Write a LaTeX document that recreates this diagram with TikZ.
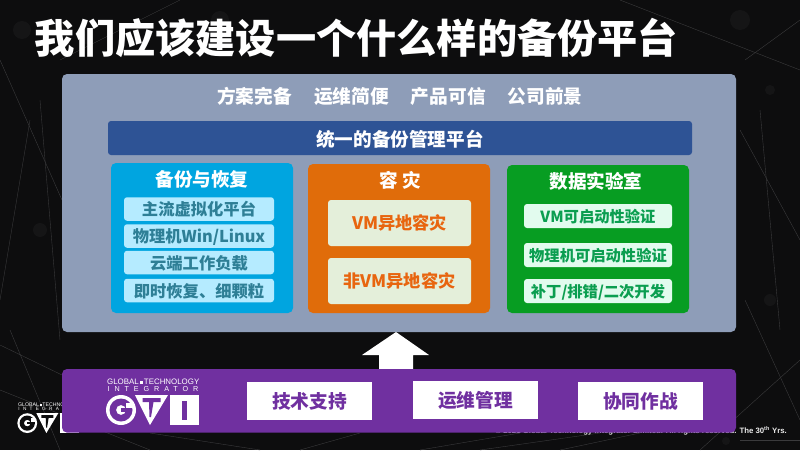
\documentclass[tikz,border=0pt]{standalone}
\usepackage{fontspec}
\setmainfont{Liberation Sans}
\newfontfamily\cjk{Noto Sans CJK SC}
\usetikzlibrary{positioning}

\definecolor{slide}{HTML}{0D0D0E}
\definecolor{web}{HTML}{3A3A3C}
\definecolor{panelgray}{HTML}{8E9DB8}
\definecolor{barblue}{HTML}{2E5395}
\definecolor{cyanbox}{HTML}{00A5E0}
\definecolor{cyanin}{HTML}{B5EBFF}
\definecolor{cyantxt}{HTML}{2E7F96}
\definecolor{orangebox}{HTML}{E06C0A}
\definecolor{orangein}{HTML}{E4EFDA}
\definecolor{orangetxt}{HTML}{E8650F}
\definecolor{greenbox}{HTML}{079D22}
\definecolor{greenin}{HTML}{E2FBEE}
\definecolor{greentxt}{HTML}{0B9E50}
\definecolor{gtipurple}{HTML}{7030A0}

\tikzset{
  card/.style={rounded corners=3pt, inner sep=0pt, align=center},
  panel/.style={card, fill=#1, rounded corners=5pt},
  head/.style={font=\cjk\fontsize{18.6}{18}\selectfont\bfseries, text=white, inner sep=0pt},
  cyanitem/.style={card, fill=cyanin, text=cyantxt, minimum width=150pt, minimum height=23.5pt,
    text height=14pt, text depth=1pt, font=\cjk\fontsize{16.3}{16}\selectfont\bfseries},
  orangeitem/.style={card, fill=orangein, text=orangetxt, minimum width=143pt, minimum height=46pt,
    text height=14.8pt, text depth=1pt, font=\cjk\fontsize{17.2}{17}\selectfont\bfseries},
  greenitem/.style={card, fill=greenin, text=greentxt, minimum width=148pt, minimum height=24pt,
    text height=13.2pt, text depth=.9pt, font=\cjk\fontsize{15.3}{16}\selectfont\bfseries},
  whitebox/.style={fill=white, text=gtipurple, inner sep=0pt, minimum width=125pt, minimum height=38pt,
    text height=16pt, text depth=1pt, font=\cjk\fontsize{18.7}{18}\selectfont\bfseries},
  goal/.style={head, font=\cjk\fontsize{18.7}{18}\selectfont\bfseries},
  pics/gtilogo/.style={code={
    \node (line1) [anchor=west, text=white, inner sep=0pt, transform shape, font=\fontsize{7.9}{9}\selectfont]
      at (0,4) {GLOBAL\,\raisebox{.2ex}{\rule{.32em}{.32em}}\,TECHNOLOGY};
    \node (line2) [anchor=west, text=white, inner sep=0pt, transform shape,
      font=\fontsize{7.2}{9}\selectfont\addfontfeature{LetterSpace=68}]
      at (0.5,11) {INTEGRATOR};
    \fill[white] (14,32) circle (15);
    \fill[#1, even odd rule] (14,32) circle (11.5) (14,32) circle (5);
    \fill[white] (19,24.5) rectangle (26.5,30);
    \fill[#1] (14,30) rectangle (25,34);
    \fill[white] (28,17) -- (61,17) -- (43,47) -- cycle;
    \fill[#1] (35.5,20) -- (53.5,20) -- (53.5,24) -- (46.5,24) -- (44,39) -- (42.5,39) -- (42,24) -- (35.5,24) -- cycle;
    \fill[white] (63,17) rectangle (92,47);
    \fill[#1] (74.5,23) rectangle (80,42);
  }}
}

\begin{document}
\begin{tikzpicture}[x=1pt, y=-1pt]
  \useasboundingbox (0,0) rectangle (800,450);
  \fill[slide] (0,0) rectangle (800,450);

  % faint web behind the slide
  \foreach \xa/\ya/\xb/\yb in {0/390/150/450, 10/330/60/450, 30/120/0/300, 740/130/800/240,
      745/300/800/420, 700/450/800/360, 560/450/640/433, 480/450/600/433, 745/60/800/20, 180/0/60/60,
      300/450/360/433, 620/0/800/70, 150/433/260/450, 420/450/520/433, 740/440/800/440, 0/345/62/375,
      760/110/780/330, 40/100/60/340, 0/60/62/200}
    \draw[web, line width=.4pt] (\xa,\ya) -- (\xb,\yb);
  \foreach \xa/\ya/\r in {22/30/9, 85/36/8, 220/20/9, 740/20/10, 770/300/6, 40/230/7, 726/441/4, 770/90/5}
    \fill[white, opacity=.035] (\xa,\ya) circle (\r);

  \node (copyright) [anchor=base east, text=white!92!black, inner sep=0pt, font=\fontsize{7.8}{9}\selectfont\bfseries]
    at (787,433.8) {© 2021 Global Technology Integrator Limited. All rights reserved. The 30\textsuperscript{th} Yrs.};
  \pic[scale=.66] at (18,402) {gtilogo=slide};

  \node (title) [text=white, inner sep=0pt, font=\cjk\fontsize{40.2}{40}\selectfont\bfseries]
    at (356.5,38) {我们应该建设一个什么样的备份平台};

  \node (main) [panel=panelgray, minimum width=674pt, minimum height=258pt] at (399,203) {};

  % top row
  \node (plan) [goal] at (254.5,96.5) {方案完备};
  \node (ops) [goal, right = 21.7pt of plan] {运维简便};
  \node (trust) [goal, right = 21.7pt of ops] {产品可信};
  \node (future) [goal, right = 21.7pt of trust] {公司前景};

  \node (bar) [card, fill=barblue, minimum width=584pt, minimum height=34pt] at (400,138) {};
  \node (bartxt) [head] at (400,139) {统一的备份管理平台};

  % backup
  \node (backup) [panel=cyanbox, minimum width=182pt, minimum height=150pt] at (202,238) {};
  \node (backuphd) [head] at (202,179.5) {备份与恢复};
  \node (b1) [cyanitem] at (199,209) {主流虚拟化平台};
  \node (b2) [cyanitem] at (199,236) {物理机Win/Linux};
  \node (b3) [cyanitem] at (199,262.5) {云端工作负载};
  \node (b4) [cyanitem] at (199,290.5) {即时恢复、细颗粒};

  % disaster recovery
  \node (dr) [panel=orangebox, minimum width=182pt, minimum height=149pt] at (399,238.5) {};
  \node (drhd) [head] at (400.5,180.5) {容\hspace{.25em}灾};
  \node (d1) [orangeitem] at (399.5,223) {VM异地容灾};
  \node (d2) [orangeitem] at (399.5,281) {非VM异地容灾};

  % data lab
  \node (lab) [panel=greenbox, minimum width=182pt, minimum height=148pt] at (598,239) {};
  \node (labhd) [head] at (596,181.5) {数据实验室};
  \node (g1) [greenitem] at (598,216) {VM可启动性验证};
  \node (g2) [greenitem] at (598,255) {物理机可启动性验证};
  \node (g3) [greenitem] at (598,291) {补丁/排错/二次开发};

  \fill[white] (396,332) -- (429,355) -- (413,355) -- (413,372) -- (379,372) -- (379,355) -- (362,355) -- cycle;

  % support strip
  \node (strip) [panel=gtipurple, minimum width=674pt, minimum height=63.6pt] at (399,400.8) {};
  \pic at (107,378) {gtilogo=gtipurple};
  \node (support) [whitebox] at (309.5,401) {技术支持};
  \node (manage) [whitebox] at (475.5,400) {运维管理};
  \node (team) [whitebox] at (640.5,400.5) {协同作战};
\end{tikzpicture}
\end{document}
